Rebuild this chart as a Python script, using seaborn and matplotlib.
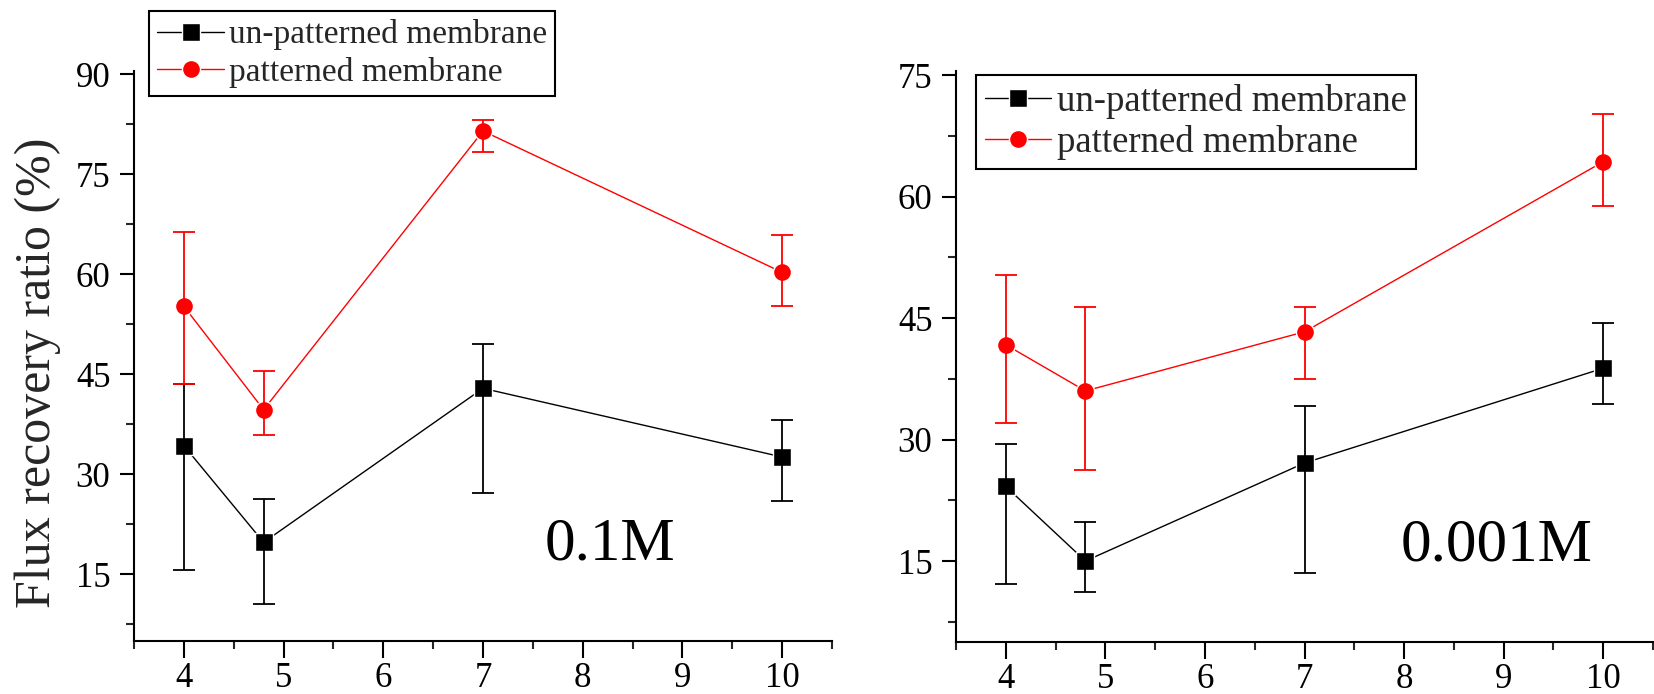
import matplotlib
matplotlib.use("Agg")
import matplotlib.pyplot as plt
from matplotlib.ticker import MultipleLocator
import numpy as np
import pandas as pd
import seaborn as sns

# ---------------- data ----------------
ph = [4, 4.8, 7, 10]
series_names = ["un-patterned membrane", "patterned membrane"]
series_colors = ["black", "red"]
series_markers = ["s", "o"]

# panel 1 : 0.1M
p1_unpat = [34.3, 19.8, 42.9, 32.6]
p1_unpat_low = [15.7, 10.6, 27.2, 26.0]
p1_unpat_high = [43.6, 26.3, 49.5, 38.2]
p1_pat = [55.2, 39.7, 81.5, 60.3]
p1_pat_low = [43.6, 35.9, 78.3, 55.3]
p1_pat_high = [66.4, 45.5, 83.2, 65.9]

# panel 2 : 0.001M
p2_unpat = [24.2, 15.0, 27.1, 38.8]
p2_unpat_low = [12.2, 11.2, 13.5, 34.4]
p2_unpat_high = [29.5, 19.8, 34.2, 44.4]
p2_pat = [41.7, 36.0, 43.3, 64.3]
p2_pat_low = [32.1, 26.2, 37.5, 58.8]
p2_pat_high = [50.3, 46.4, 46.3, 70.2]

panel_labels = ["0.1M", "0.001M"]
y_label = "Flux recovery ratio (%)"
x_ticks = [4, 5, 6, 7, 8, 9, 10]
p1_yticks = [15, 30, 45, 60, 75, 90]
p2_yticks = [15, 30, 45, 60, 75]

# ---------------- style ----------------
sns.set_theme(style="ticks")
plt.rcParams["font.family"] = ["Liberation Serif", "DejaVu Serif"]
plt.rcParams["axes.linewidth"] = 1.5

W, H = 1654, 694
fig = plt.figure(figsize=(W / 100, H / 100), dpi=100)
ax1 = fig.add_axes([134 / W, 53 / H, 698 / W, 570 / H])
ax2 = fig.add_axes([956 / W, 52 / H, 697 / W, 571 / H])


def draw(ax, unpat, unpat_lo, unpat_hi, pat, pat_lo, pat_hi, ylim, yticks):
    df = pd.DataFrame({
        "pH": ph * 2,
        "FRR": unpat + pat,
        "series": [series_names[0]] * len(ph) + [series_names[1]] * len(ph),
    })
    sns.lineplot(data=df, x="pH", y="FRR", hue="series", style="series",
                 palette=dict(zip(series_names, series_colors)),
                 markers=dict(zip(series_names, series_markers)),
                 dashes=False, markersize=13, markeredgewidth=1,
                 linewidth=1.0, ax=ax, legend=True, zorder=3)
    for vals, lo, hi, col in [(unpat, unpat_lo, unpat_hi, series_colors[0]),
                              (pat, pat_lo, pat_hi, series_colors[1])]:
        v = np.array(vals)
        yerr = [v - np.array(lo), np.array(hi) - v]
        ax.errorbar(ph, v, yerr=yerr, fmt="none", ecolor=col,
                    elinewidth=1.3, capsize=8, capthick=1.3, zorder=4)
    ax.set_xlim(3.5, 10.5)
    ax.set_ylim(*ylim)
    ax.set_xticks(x_ticks)
    ax.set_yticks(yticks)
    ax.xaxis.set_minor_locator(MultipleLocator(0.5))
    ax.yaxis.set_minor_locator(MultipleLocator(7.5))
    ax.tick_params(axis="x", which="major", length=12, width=1.5,
                   labelsize=25, pad=3, direction="out", colors="black")
    ax.tick_params(axis="x", which="minor", length=6, width=1.5,
                   direction="out")
    ax.tick_params(axis="y", which="major", length=10, width=1.5,
                   labelsize=25, pad=7, direction="out", colors="black")
    ax.tick_params(axis="y", which="minor", length=6, width=1.5,
                   direction="out")
    for s in ["top", "right"]:
        ax.spines[s].set_visible(False)
    for s in ["left", "bottom"]:
        ax.spines[s].set_color("black")
    ax.set_xlabel("")
    ax.set_ylabel("")
    handles, labels = ax.get_legend_handles_labels()
    ax.get_legend().remove()
    return handles, labels


h1, l1 = draw(ax1, p1_unpat, p1_unpat_low, p1_unpat_high,
              p1_pat, p1_pat_low, p1_pat_high, (5, 90.5), p1_yticks)
h2, l2 = draw(ax2, p2_unpat, p2_unpat_low, p2_unpat_high,
              p2_pat, p2_pat_low, p2_pat_high, (5, 75.5), p2_yticks)

ax1.set_ylabel(y_label, fontsize=36)
ax1.yaxis.set_label_coords(-0.105, 0.47)

leg_kw = dict(frameon=True, fancybox=False, edgecolor="black",
              framealpha=1, handletextpad=0.15,
              borderaxespad=0, bbox_transform=fig.transFigure,
              loc="upper left")
lg1 = fig.legend(h1, l1, bbox_to_anchor=(149 / W, 1 - 11 / H),
                 fontsize=24, handlelength=2.0, borderpad=0.25,
                 labelspacing=0.2, **leg_kw)
lg2 = fig.legend(h2, l2, bbox_to_anchor=(976 / W, 1 - 75 / H),
                 fontsize=26.5, handlelength=1.8, borderpad=0.25,
                 labelspacing=0.15, **leg_kw)
for lg in (lg1, lg2):
    lg.get_frame().set_linewidth(1.5)

ax1.text(0.682, 0.143, panel_labels[0], transform=ax1.transAxes,
         fontsize=44, ha="center", va="baseline", color="black")
ax2.text(0.775, 0.143, panel_labels[1], transform=ax2.transAxes,
         fontsize=44, ha="center", va="baseline", color="black")

fig.savefig("out.png", dpi=100)
